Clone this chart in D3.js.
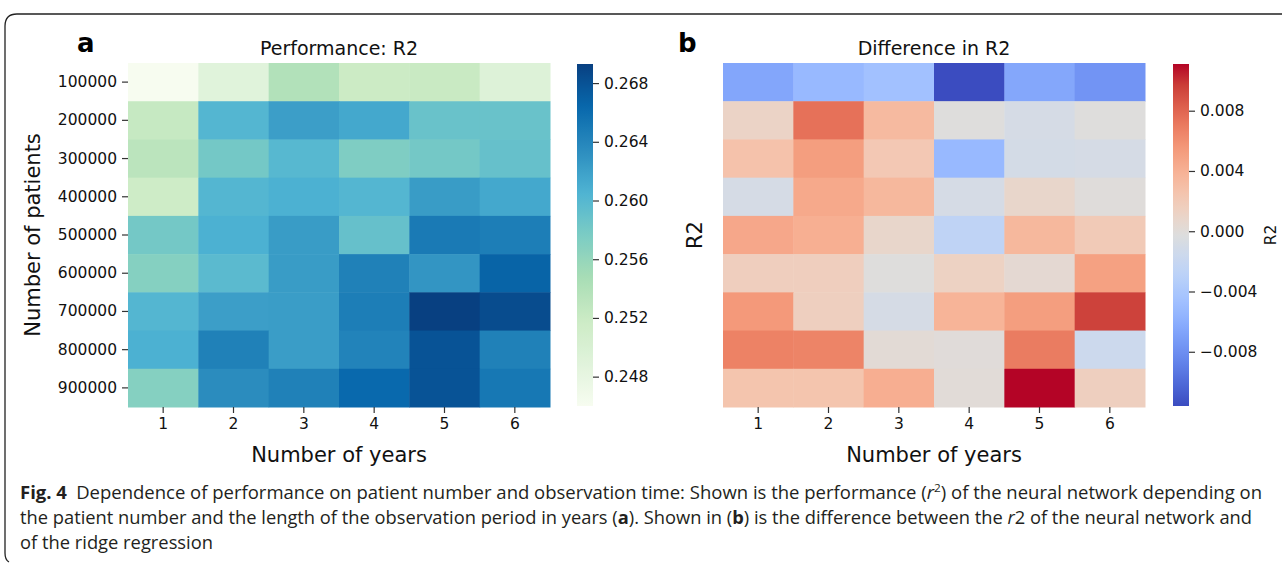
<!DOCTYPE html>
<html>
<head>
<meta charset="utf-8">
<script src="https://cdn.jsdelivr.net/npm/d3@7"></script>
<style>
  html, body { margin: 0; padding: 0; background: #fff; }
  svg { display: block; }
  .tick text { font-family: "DejaVu Sans", sans-serif; }
</style>
</head>
<body>
<div id="chart"></div>
<script>
// Categories
const years = [1, 2, 3, 4, 5, 6];
const patients = [100000, 200000, 300000, 400000, 500000, 600000, 700000, 800000, 900000];

// Panel a: performance R2 (rows = patients, cols = years)
const perfR2 = [
    [0.2460, 0.2489, 0.2539, 0.2518, 0.2521, 0.2493],
    [0.2523, 0.2602, 0.2621, 0.2614, 0.2588, 0.2588],
    [0.2532, 0.2581, 0.2600, 0.2574, 0.2581, 0.2590],
    [0.2516, 0.2602, 0.2607, 0.2602, 0.2623, 0.2614],
    [0.2581, 0.2607, 0.2623, 0.2590, 0.2649, 0.2646],
    [0.2570, 0.2597, 0.2623, 0.2644, 0.2628, 0.2667],
    [0.2602, 0.2621, 0.2622, 0.2646, 0.2693, 0.2684],
    [0.2607, 0.2644, 0.2622, 0.2642, 0.2679, 0.2644],
    [0.2570, 0.2635, 0.2644, 0.2663, 0.2679, 0.2651]
];

// Panel b: difference in R2 (neural network minus ridge regression)
const diffR2 = [
    [-0.0066, -0.0052, -0.0046, -0.0116, -0.0065, -0.0077],
    [ 0.0011,  0.0075,  0.0033, -0.0002, -0.0009, -0.0002],
    [ 0.0027,  0.0052,  0.0022, -0.0052, -0.0010, -0.0009],
    [-0.0009,  0.0045,  0.0035, -0.0009,  0.0008, -0.0001],
    [ 0.0046,  0.0041,  0.0008, -0.0026,  0.0035,  0.0020],
    [ 0.0016,  0.0016, -0.0002,  0.0013,  0.0004,  0.0050],
    [ 0.0055,  0.0015, -0.0009,  0.0038,  0.0052,  0.0095],
    [ 0.0067,  0.0066,  0.0002,  0.0000,  0.0070, -0.0016],
    [ 0.0025,  0.0025,  0.0042,  0.0001,  0.0111,  0.0015]
];

// Colorbar ticks
const perfTicks = [0.248, 0.252, 0.256, 0.260, 0.264, 0.268];
const diffTicks = [-0.008, -0.004, 0.000, 0.004, 0.008];

// colormaps (matplotlib GnBu and coolwarm)
const gnbu = ['#f7fcf0', '#e0f3db', '#ccebc5', '#a8ddb5', '#7bccc4', '#4eb3d3', '#2b8cbe', '#0868ac', '#084081'];
const coolwarm = ['#3b4cc0', '#4d68d7', '#6282ea', '#779af7', '#8db0fe', '#a3c2ff', '#b8d0f9', '#cbd9ee',
                  '#dddddd', '#ecd3c5', '#f5c4ad', '#f7b194', '#f49a7b', '#ec7f63', '#de604d', '#cb3e38', '#b40426'];

function makeCmap(colors) {
    const s = d3.scaleLinear()
        .domain(colors.map((c, i) => i / (colors.length - 1)))
        .range(colors)
        .interpolate(d3.interpolateRgb)
        .clamp(true);
    return t => s(t);
}

const width = 1282, height = 563;
const svg = d3.select('#chart').append('svg')
    .attr('width', width)
    .attr('height', height)
    .style('font-family', '"DejaVu Sans", sans-serif');

svg.append('rect').attr('width', width).attr('height', height).attr('fill', '#fff');

// frame around the figure
svg.append('path')
    .attr('d', 'M5,553 L5,26 Q5,14 17,14 L1282,14 M5,553 Q5,560 9,562')
    .attr('fill', 'none')
    .attr('stroke', '#222')
    .attr('stroke-width', 1.3);

const mapTop = 63, mapBottom = 407;

function heatmap(opts) {
    const { x0, data, cmap, letter, title, ylabel, showYTicks, cbX, ticks, cbLabel } = opts;
    const vmin = d3.min(data.flat()), vmax = d3.max(data.flat());
    const g = svg.append('g');

    const x = d3.scaleBand().domain(years).range([x0, x0 + 422]);
    const y = d3.scaleBand().domain(patients).range([mapTop, mapBottom]);
    const color = v => cmap((v - vmin) / (vmax - vmin));

    // cells
    data.forEach((row, i) => {
        g.selectAll(null)
            .data(row)
            .enter().append('rect')
            .attr('x', (d, j) => x(years[j]))
            .attr('y', y(patients[i]))
            .attr('width', x.bandwidth() + 0.5)
            .attr('height', y.bandwidth() + 0.5)
            .attr('fill', d => color(d));
    });

    // x axis
    const xAxis = g.append('g')
        .attr('transform', `translate(0,${mapBottom})`)
        .call(d3.axisBottom(x).tickSize(6).tickPadding(5));
    xAxis.select('.domain').remove();
    xAxis.selectAll('.tick line').attr('stroke', '#333').attr('stroke-width', 1.2);
    xAxis.selectAll('.tick text').attr('font-size', 15.5).attr('fill', '#111');

    // y axis
    if (showYTicks) {
        const yAxis = g.append('g')
            .attr('transform', `translate(${x0},0)`)
            .call(d3.axisLeft(y).tickSize(6).tickPadding(5));
        yAxis.select('.domain').remove();
        yAxis.selectAll('.tick line').attr('stroke', '#333').attr('stroke-width', 1.2);
        yAxis.selectAll('.tick text').attr('font-size', 15.5).attr('fill', '#111');
    }

    // labels
    g.append('text')
        .attr('x', x0 + 211).attr('y', 462)
        .attr('text-anchor', 'middle')
        .attr('font-size', 21)
        .attr('fill', '#111')
        .text('Number of years');

    g.append('text')
        .attr('transform', `translate(${ylabel.x},${(mapTop + mapBottom) / 2}) rotate(-90)`)
        .attr('text-anchor', 'middle')
        .attr('font-size', 21)
        .attr('fill', '#111')
        .text(ylabel.text);

    g.append('text')
        .attr('x', x0 + 211).attr('y', 55)
        .attr('text-anchor', 'middle')
        .attr('font-size', 19)
        .attr('fill', '#111')
        .text(title);

    g.append('text')
        .attr('x', letter.x).attr('y', 52)
        .attr('font-size', 26)
        .attr('font-weight', 'bold')
        .attr('fill', '#000')
        .text(letter.text);

    // colorbar
    const cb = d3.scaleLinear().domain([vmin, vmax]).range([406, 64]);
    const gradId = 'grad-' + letter.text;
    const grad = svg.append('defs').append('linearGradient')
        .attr('id', gradId)
        .attr('x1', 0).attr('x2', 0).attr('y1', 1).attr('y2', 0);
    d3.range(0, 1.0001, 0.02).forEach(t => {
        grad.append('stop').attr('offset', t).attr('stop-color', cmap(t));
    });
    g.append('rect')
        .attr('x', cbX).attr('y', 64)
        .attr('width', 16).attr('height', 342)
        .attr('fill', `url(#${gradId})`);

    const cbAxis = g.append('g')
        .attr('transform', `translate(${cbX + 16},0)`)
        .call(d3.axisRight(cb).tickValues(ticks).tickFormat(d3.format('.3f')).tickSize(6).tickPadding(5));
    cbAxis.select('.domain').remove();
    cbAxis.selectAll('.tick line').attr('stroke', '#333').attr('stroke-width', 1.2);
    cbAxis.selectAll('.tick text').attr('font-size', 15.5).attr('fill', '#111');

    if (cbLabel) {
        g.append('text')
            .attr('transform', `translate(${cbLabel.x},${(mapTop + mapBottom) / 2}) rotate(-90)`)
            .attr('text-anchor', 'middle')
            .attr('font-size', 15.5)
            .attr('fill', '#111')
            .text(cbLabel.text);
    }
}

heatmap({
    x0: 128, data: perfR2, cmap: makeCmap(gnbu),
    letter: { x: 77, text: 'a' }, title: 'Performance: R2',
    ylabel: { x: 40, text: 'Number of patients' }, showYTicks: true,
    cbX: 577, ticks: perfTicks
});

heatmap({
    x0: 723, data: diffR2, cmap: makeCmap(coolwarm),
    letter: { x: 678, text: 'b' }, title: 'Difference in R2',
    ylabel: { x: 702, text: 'R2' }, showYTicks: false,
    cbX: 1173, ticks: diffTicks, cbLabel: { x: 1276, text: 'R2' }
});

// caption
const cap = svg.append('g')
    .style('font-family', '"Open Sans", sans-serif')
    .attr('font-size', 18)
    .attr('fill', '#231f20');

const l1 = cap.append('text').attr('x', 20).attr('y', 499)
    .attr('textLength', 1242).attr('lengthAdjust', 'spacingAndGlyphs');
l1.append('tspan').attr('font-weight', 'bold').text('Fig. 4');
l1.append('tspan').text('\u2002Dependence of performance on patient number and observation time: Shown is the performance (');
l1.append('tspan').attr('font-style', 'italic').text('r');
l1.append('tspan').attr('font-size', 11.5).attr('dy', -7).text('2');
l1.append('tspan').attr('dy', 7).text(') of the neural network depending on');

const l2 = cap.append('text').attr('x', 20).attr('y', 524)
    .attr('textLength', 1232).attr('lengthAdjust', 'spacingAndGlyphs');
l2.append('tspan').text('the patient number and the length of the observation period in years (');
l2.append('tspan').attr('font-weight', 'bold').text('a');
l2.append('tspan').text('). Shown in (');
l2.append('tspan').attr('font-weight', 'bold').text('b');
l2.append('tspan').text(') is the difference between the ');
l2.append('tspan').attr('font-style', 'italic').text('r');
l2.append('tspan').text('2 of the neural network and');

cap.append('text').attr('x', 20).attr('y', 549)
    .attr('textLength', 193).attr('lengthAdjust', 'spacingAndGlyphs')
    .text('of the ridge regression');
</script>
</body>
</html>
